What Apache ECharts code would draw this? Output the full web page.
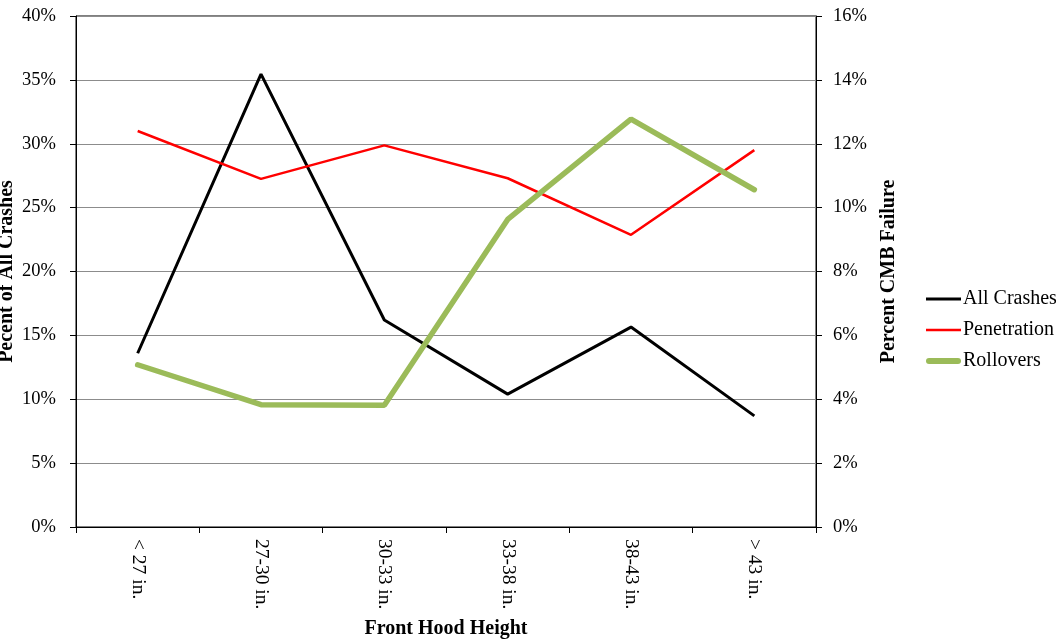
<!DOCTYPE html>
<html>
<head>
<meta charset="utf-8">
<script src="https://cdn.jsdelivr.net/npm/echarts@6/dist/echarts.min.js"></script>
<style>html,body{margin:0;padding:0;background:#fff}#c{width:1056px;height:642px}</style>
</head>
<body>
<div id="c"></div>
<script>
const categories = ['< 27 in.', '27-30 in.', '30-33 in.', '33-38 in.', '38-43 in.', '> 43 in.'];
const allCrashes = [13.6, 35.45, 16.2, 10.4, 15.65, 8.7];   // % of all crashes (left axis)
const penetration = [12.4, 10.9, 11.95, 10.92, 9.15, 11.8]; // % CMB failure (right axis)
const rollovers = [5.08, 3.83, 3.81, 9.63, 12.77, 10.56];   // % CMB failure (right axis)
const leftTicks = {min: 0, max: 40, interval: 5};
const rightTicks = {min: 0, max: 16, interval: 2};

const font = '"Liberation Serif", "Times New Roman", serif';
const chart = echarts.init(document.getElementById('c'), null, {renderer: 'canvas'});
chart.setOption({
  animation: false,
  backgroundColor: '#fff',
  grid: {left: 76, right: 240, top: 16, bottom: 115, containLabel: false, outerBoundsMode: 'none',
         show: true, borderColor: '#000', borderWidth: 1, backgroundColor: 'transparent'},
  legend: {
    orient: 'vertical', left: 921, top: 284, itemGap: 11,
    itemWidth: 35, itemHeight: 12, symbolKeepAspect: true,
    textStyle: {fontFamily: font, fontSize: 20, color: '#000', padding: [0, 0, 0, -3]},
    data: [
      {name: 'All Crashes', icon: 'path://M0,0H35V3H0Z'},
      {name: 'Penetration', icon: 'path://M0,0H35V2.5H0Z'},
      {name: 'Rollovers', icon: 'path://M3,0H32A3,3 0 0 1 32,6H3A3,3 0 0 1 3,0Z'}
    ]
  },
  xAxis: {
    type: 'category', data: categories, boundaryGap: true,
    axisLine: {lineStyle: {color: '#000', width: 1}},
    axisTick: {show: true, length: 6, lineStyle: {color: '#000'}},
    axisLabel: {rotate: -90, margin: 12, fontFamily: font, fontSize: 19.5, color: '#000'},
    name: 'Front Hood Height', nameLocation: 'middle', nameGap: 92, nameMoveOverlap: false,
    nameTextStyle: {fontFamily: font, fontSize: 20, fontWeight: 'bold', color: '#000'}
  },
  yAxis: [
    {
      type: 'value', position: 'left', min: leftTicks.min, max: leftTicks.max, interval: leftTicks.interval,
      axisLine: {show: true, lineStyle: {color: '#000'}},
      axisTick: {show: true, length: 6, lineStyle: {color: '#000'}},
      axisLabel: {formatter: '{value}%', margin: 20, fontFamily: font, fontSize: 18.5, color: '#000'},
      splitLine: {show: true, lineStyle: {color: '#8c8c8c', width: 1}},
      name: 'Pecent of All Crashes', nameLocation: 'middle', nameGap: 59, nameRotate: 90, nameMoveOverlap: false,
      nameTextStyle: {fontFamily: font, fontSize: 20, fontWeight: 'bold', color: '#000'}
    },
    {
      type: 'value', position: 'right', min: rightTicks.min, max: rightTicks.max, interval: rightTicks.interval,
      axisLine: {show: true, lineStyle: {color: '#000'}},
      axisTick: {show: true, length: 6, lineStyle: {color: '#000'}},
      axisLabel: {formatter: '{value}%', margin: 17, fontFamily: font, fontSize: 18.5, color: '#000'},
      splitLine: {show: false},
      name: 'Percent CMB Failure', nameLocation: 'middle', nameGap: 63, nameRotate: 90, nameMoveOverlap: false,
      nameTextStyle: {fontFamily: font, fontSize: 20, fontWeight: 'bold', color: '#000'}
    }
  ],
  series: [
    {name: 'All Crashes', type: 'line', yAxisIndex: 0, data: allCrashes, symbol: 'none',
     color: '#000', lineStyle: {color: '#000', width: 3}},
    {name: 'Penetration', type: 'line', yAxisIndex: 1, data: penetration, symbol: 'none',
     color: '#ff0000', lineStyle: {color: '#ff0000', width: 2.5}},
    {name: 'Rollovers', type: 'line', yAxisIndex: 1, data: rollovers, symbol: 'none',
     color: '#9bbb59', lineStyle: {color: '#9bbb59', width: 5.5, cap: 'round'}}
  ]
});
</script>
</body>
</html>
